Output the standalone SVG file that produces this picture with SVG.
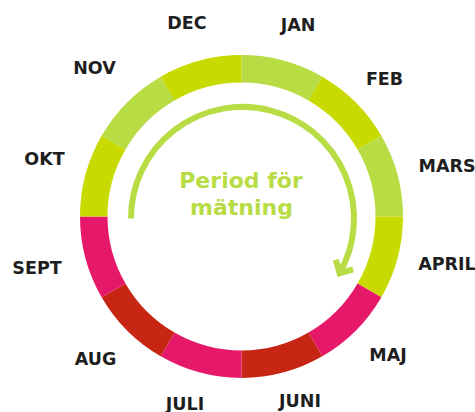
<svg xmlns="http://www.w3.org/2000/svg" width="475" height="412" viewBox="0 0 475 412">
  <style>
    .lime { fill: #b8dc44; }
    .chart { fill: #c8da00; }
    .pink { fill: #e6186a; }
    .red { fill: #c82614; }
    .month { font-family: "DejaVu Sans", "Liberation Sans", sans-serif; font-weight: bold; font-size: 17.5px; fill: #1e1e1e; text-anchor: middle; }
    .title { font-family: "DejaVu Sans", "Liberation Sans", sans-serif; font-weight: bold; font-size: 22px; fill: #b8dc44; text-anchor: middle; }
    .loop { fill: none; stroke: #b8dc44; stroke-width: 6; }
  </style>

  <rect width="475" height="412" fill="#ffffff"/>

  <!-- year ring: twelve 30-degree sectors, centre (241.5,216.5), radii 161.5 / 134 -->
  <g id="jan">
    <path class="lime" d="M241.5,55 A161.5,161.5 0 0 1 322.25,76.64 L308.5,100.45 A134,134 0 0 0 241.5,82.5 Z"/>
    <text class="month" x="298" y="30.5">JAN</text>
  </g>
  <g id="feb">
    <path class="chart" d="M322.25,76.64 A161.5,161.5 0 0 1 381.36,135.75 L357.55,149.5 A134,134 0 0 0 308.5,100.45 Z"/>
    <text class="month" x="384.5" y="85">FEB</text>
  </g>
  <g id="mars">
    <path class="lime" d="M381.36,135.75 A161.5,161.5 0 0 1 403,216.5 L375.5,216.5 A134,134 0 0 0 357.55,149.5 Z"/>
    <text class="month" x="447" y="172">MARS</text>
  </g>
  <g id="april">
    <path class="chart" d="M403,216.5 A161.5,161.5 0 0 1 381.36,297.25 L357.55,283.5 A134,134 0 0 0 375.5,216.5 Z"/>
    <text class="month" x="447" y="270">APRIL</text>
  </g>
  <g id="maj">
    <path class="pink" d="M381.36,297.25 A161.5,161.5 0 0 1 322.25,356.36 L308.5,332.55 A134,134 0 0 0 357.55,283.5 Z"/>
    <text class="month" x="388" y="360.5">MAJ</text>
  </g>
  <g id="juni">
    <path class="red" d="M322.25,356.36 A161.5,161.5 0 0 1 241.5,378 L241.5,350.5 A134,134 0 0 0 308.5,332.55 Z"/>
    <text class="month" x="300" y="406.5">JUNI</text>
  </g>
  <g id="juli">
    <path class="pink" d="M241.5,378 A161.5,161.5 0 0 1 160.75,356.36 L174.5,332.55 A134,134 0 0 0 241.5,350.5 Z"/>
    <text class="month" x="185" y="409.5">JULI</text>
  </g>
  <g id="aug">
    <path class="red" d="M160.75,356.36 A161.5,161.5 0 0 1 101.64,297.25 L125.45,283.5 A134,134 0 0 0 174.5,332.55 Z"/>
    <text class="month" x="95.5" y="365">AUG</text>
  </g>
  <g id="sept">
    <path class="pink" d="M101.64,297.25 A161.5,161.5 0 0 1 80,216.5 L107.5,216.5 A134,134 0 0 0 125.45,283.5 Z"/>
    <text class="month" x="37" y="274">SEPT</text>
  </g>
  <g id="okt">
    <path class="chart" d="M80,216.5 A161.5,161.5 0 0 1 101.64,135.75 L125.45,149.5 A134,134 0 0 0 107.5,216.5 Z"/>
    <text class="month" x="44.5" y="165">OKT</text>
  </g>
  <g id="nov">
    <path class="lime" d="M101.64,135.75 A161.5,161.5 0 0 1 160.75,76.64 L174.5,100.45 A134,134 0 0 0 125.45,149.5 Z"/>
    <text class="month" x="94.5" y="74">NOV</text>
  </g>
  <g id="dec">
    <path class="chart" d="M160.75,76.64 A161.5,161.5 0 0 1 241.5,55 L241.5,82.5 A134,134 0 0 0 174.5,100.45 Z"/>
    <text class="month" x="187" y="28.5">DEC</text>
  </g>

  <!-- measurement period label -->
  <g id="period">
    <text class="title" x="241" y="188">Period för</text>
    <text class="title" x="241.5" y="215">mätning</text>
  </g>

  <!-- clockwise arrow around the label -->
  <g id="connectors">
    <path class="loop" d="M131,218.5 A111.5,111.5 0 1 1 339.6,273.2"/>
    <path class="loop" stroke-linejoin="miter" d="M335.8,259.7 L339.6,273.2 L353.1,269.4"/>
  </g>
</svg>
